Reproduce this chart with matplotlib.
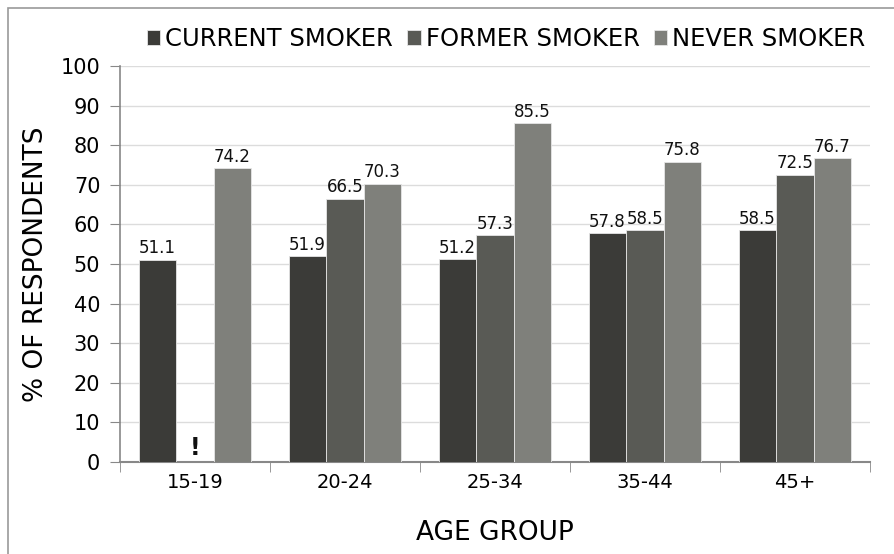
import matplotlib.pyplot as plt
import numpy as np
from matplotlib.patches import Rectangle

plt.rcParams['font.family'] = ['DejaVu Sans']

groups = ['15-19', '20-24', '25-34', '35-44', '45+']
series = ['CURRENT SMOKER', 'FORMER SMOKER', 'NEVER SMOKER']
current = [51.1, 51.9, 51.2, 57.8, 58.5]
former = [np.nan, 66.5, 57.3, 58.5, 72.5]
never = [74.2, 70.3, 85.5, 75.8, 76.7]
colors = ['#3b3b38', '#595a55', '#7f807b']

fig = plt.figure(figsize=(8.94, 5.54), dpi=100)
ax = fig.add_axes([0.134, 0.166, 0.839, 0.715])

x = np.arange(len(groups))
width = 0.25
for i, (vals, col, lab) in enumerate(zip([current, former, never], colors, series)):
    pos = x + (i - 1) * width
    ax.bar(pos, vals, width, color=col, edgecolor='#e6e6e6', linewidth=0.6,
           label=lab, zorder=3)
    for p, v in zip(pos, vals):
        if np.isnan(v):
            # no value for this group, marked with "!"
            ax.text(p, 0.6, '!', ha='center', va='bottom', fontsize=17,
                    fontweight='semibold', color='#111111')
        else:
            ax.text(p, v + 0.6, f'{v:.1f}', ha='center', va='bottom', fontsize=12,
                    color='#111111')

ax.set_xlim(-0.5, len(groups) - 0.5)
ax.set_ylim(0, 100)
ax.set_yticks(range(0, 101, 10))
ax.tick_params(axis='y', labelsize=15, length=7, color='#888888', direction='out', pad=7)
ax.set_xticks(x)
ax.set_xticklabels(groups)
ax.set_xticks(np.arange(-0.5, len(groups)), minor=True)
ax.tick_params(axis='x', which='major', length=0, labelsize=14, pad=8)
ax.tick_params(axis='x', which='minor', length=7, color='#888888')
ax.yaxis.grid(True, color='#dcdcdc', linewidth=1, zorder=0)
ax.set_axisbelow(True)
for s in ['top', 'right']:
    ax.spines[s].set_visible(False)
ax.spines['left'].set_color('#888888')
ax.spines['bottom'].set_color('#888888')
ax.spines['left'].set_linewidth(1.2)
ax.spines['bottom'].set_linewidth(1.5)

ax.set_ylabel('% OF RESPONDENTS', fontsize=19, labelpad=8)
ax.set_xlabel('AGE GROUP', fontsize=19, labelpad=20)

ax.legend(loc='lower center', bbox_to_anchor=(0.515, 1.0), ncol=3, frameon=False,
          fontsize=17.5, handlelength=0.55, handleheight=0.55, handletextpad=0.2,
          columnspacing=0.6, borderaxespad=0.2)

# grey frame round the whole figure (top and left edges visible)
fig.patches.append(Rectangle((8 / 894, -0.1), 1.2, 1.1 - 8 / 554, transform=fig.transFigure,
                             fill=False, edgecolor='#999999', linewidth=1.2))

fig.savefig('out.png', dpi=100)
